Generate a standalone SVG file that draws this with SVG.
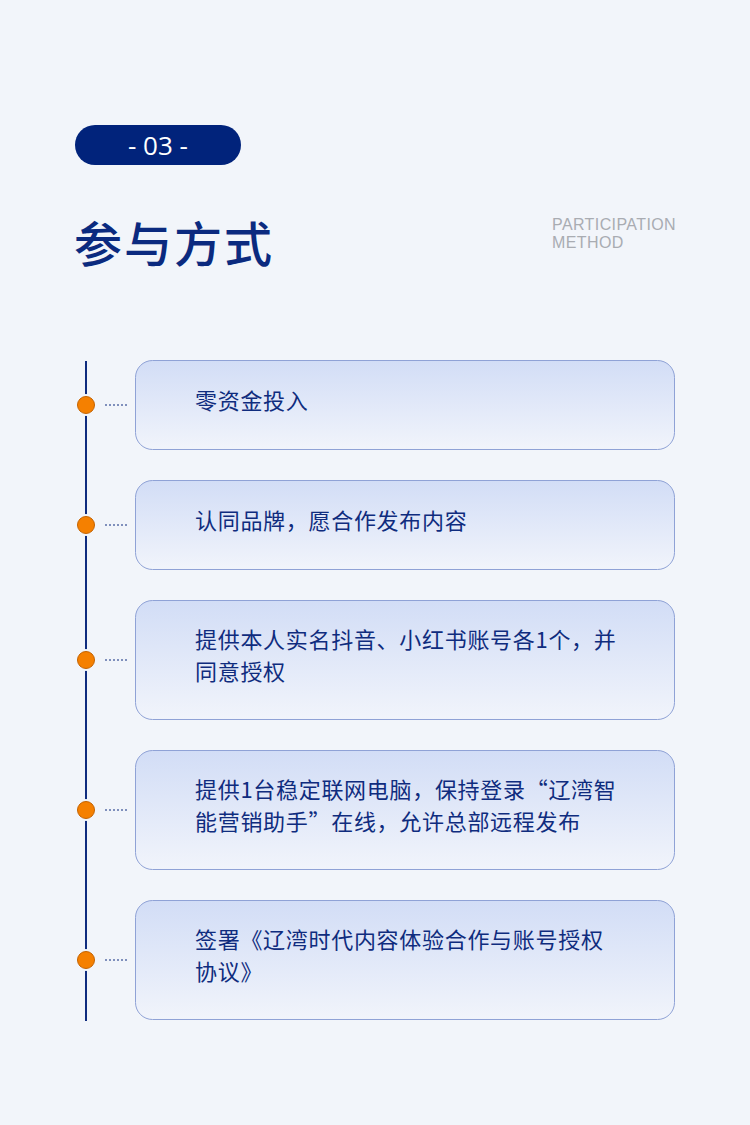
<svg xmlns="http://www.w3.org/2000/svg" width="750" height="1125" viewBox="0 0 750 1125">
<defs>
<linearGradient id="cardGrad" x1="0" y1="0" x2="0" y2="1">
<stop offset="0" stop-color="#D2DDF6"/>
<stop offset="1" stop-color="#F1F4FB"/>
</linearGradient>
<style>
.card{fill:url(#cardGrad);stroke:#8FA2D6;stroke-width:1}
.txt{font-family:"Noto Sans CJK SC","Noto Sans",sans-serif;font-size:22px;fill:#0F2C7E;letter-spacing:0.7px}
.dot{fill:#F58000;stroke:#C46200;stroke-width:1}
.ring{fill:#F2F5FA}
.dash{stroke:#0F2C7E;stroke-width:1.2;stroke-dasharray:2 2;fill:none}
</style>
</defs>
<rect width="750" height="1125" fill="#F2F5FA"/>
<g id="badge">
<rect x="75" y="125" width="166" height="40" rx="20" fill="#01237B"/>
<text x="158" y="155" text-anchor="middle" font-family="'Open Sans','Noto Sans',sans-serif" font-size="26" fill="#FFFFFF">- 03 -</text>
</g>
<g id="title">
<text x="74" y="262" font-family="'Noto Sans CJK SC',sans-serif" font-size="48" font-weight="500" fill="#0B2A7F" letter-spacing="2">参与方式</text>
</g>
<g id="subtitle" font-family="'Liberation Sans',Arial,sans-serif" font-size="16" fill="#A9ACB2" letter-spacing="0.4">
<text x="552" y="230">PARTICIPATION</text>
<text x="552" y="248">METHOD</text>
</g>
<g id="connectors">
<line x1="86" y1="361" x2="86" y2="1021" stroke="#0F2C7E" stroke-width="2"/>
<line class="dash" x1="105" y1="405" x2="127" y2="405"/>
<line class="dash" x1="105" y1="525" x2="127" y2="525"/>
<line class="dash" x1="105" y1="660" x2="127" y2="660"/>
<line class="dash" x1="105" y1="810" x2="127" y2="810"/>
<line class="dash" x1="105" y1="960" x2="127" y2="960"/>
</g>
<g id="dot1"><circle class="ring" cx="86" cy="405" r="11"/><circle class="dot" cx="86" cy="405" r="8.5"/></g>
<g id="dot2"><circle class="ring" cx="86" cy="525" r="11"/><circle class="dot" cx="86" cy="525" r="8.5"/></g>
<g id="dot3"><circle class="ring" cx="86" cy="660" r="11"/><circle class="dot" cx="86" cy="660" r="8.5"/></g>
<g id="dot4"><circle class="ring" cx="86" cy="810" r="11"/><circle class="dot" cx="86" cy="810" r="8.5"/></g>
<g id="dot5"><circle class="ring" cx="86" cy="960" r="11"/><circle class="dot" cx="86" cy="960" r="8.5"/></g>
<g id="card1">
<rect class="card" x="135.5" y="360.5" width="539" height="89" rx="17"/>
<text class="txt" x="195" y="409">零资金投入</text>
</g>
<g id="card2">
<rect class="card" x="135.5" y="480.5" width="539" height="89" rx="17"/>
<text class="txt" x="195" y="529">认同品牌，愿合作发布内容</text>
</g>
<g id="card3">
<rect class="card" x="135.5" y="600.5" width="539" height="119" rx="17"/>
<text class="txt" x="195" y="648">提供本人实名抖音、小红书账号各1个，并</text>
<text class="txt" x="195" y="680">同意授权</text>
</g>
<g id="card4">
<rect class="card" x="135.5" y="750.5" width="539" height="119" rx="17"/>
<text class="txt" x="195" y="798">提供1台稳定联网电脑，保持登录“辽湾智</text>
<text class="txt" x="195" y="830">能营销助手”在线，允许总部远程发布</text>
</g>
<g id="card5">
<rect class="card" x="135.5" y="900.5" width="539" height="119" rx="17"/>
<text class="txt" x="195" y="948">签署《辽湾时代内容体验合作与账号授权</text>
<text class="txt" x="195" y="980">协议》</text>
</g>
</svg>
